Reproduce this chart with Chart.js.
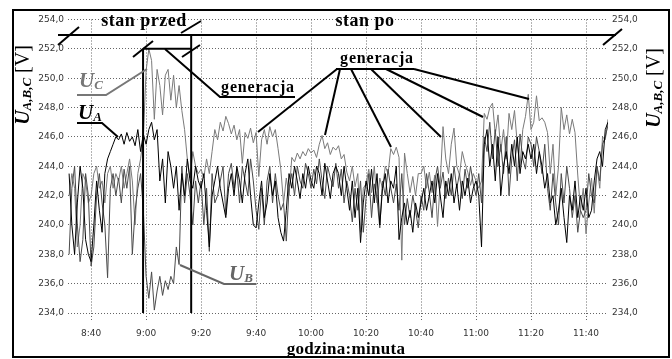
<!DOCTYPE html>
<html>
<head>
<meta charset="utf-8">
<script src="https://cdn.jsdelivr.net/npm/chart.js@4/dist/chart.umd.min.js"></script>
<style>
html, body { margin: 0; padding: 0; background: #fff; }
</style>
</head>
<body>
<canvas id="myChart" width="672" height="359"></canvas>
<script>
// minutes after 8:00, one reading per minute starting at 8:32
var startMinute = 32;
var tickMinutes = [40, 60, 80, 100, 120, 140, 160, 180, 200, 220];
var tickLabels = ['8:40', '9:00', '9:20', '9:40', '10:00', '10:20', '10:40', '11:00', '11:20', '11:40'];

var uA = [
    243.5, 240, 238, 241.5, 244, 242.5, 239, 238,
    237.5, 240, 243, 241, 239.5, 243.5, 244.5, 245, 245.5, 246,
    245.8, 246.2, 245.5, 246.3, 245.7, 246, 245.4, 246.5, 245, 246.2,
    245.5, 246.5, 247, 245.8, 246.5, 243, 244.5, 241.5, 245, 244,
    242.5, 244, 241, 243.5, 242, 244.5, 243, 242.5, 244, 243,
    242.5, 243.5, 241, 238.5, 242, 243, 244, 242.5, 241.5, 240.5,
    242.5, 243.5, 242, 244, 243, 241.5, 243.5, 244.5, 242, 240,
    239.8, 241.5, 243, 240.5, 241.5, 243.5, 242, 243, 240.5, 239.5,
    238.9, 241, 243.5, 242.5, 244, 243, 241.8, 243.5, 242.5, 244,
    243, 242.5, 244, 243.5, 242, 244.2, 243, 241.8, 243.5, 244,
    243.5, 242, 244, 242.5, 241, 243, 240.5, 242.5, 238.8, 241.5,
    243, 242, 243.8, 241.5, 243.5, 240, 242.5, 243.5, 241.5, 243,
    242.5, 244, 239, 240.5, 241.5, 240, 241, 239.5, 241.5, 240.5,
    241.5, 242.5, 241, 242, 243, 241.5, 243.5, 242, 240.5, 243,
    242, 243.5, 241.5, 242.8, 241, 243, 242, 243.2, 241.5, 242.5,
    243, 242, 238.5, 245.5, 246.5, 244, 245.5, 243, 246, 242,
    244, 245, 243.5, 245.5, 244, 246, 243.5, 245, 244.5, 245.5,
    244.5, 245.5, 243.5, 245, 244, 242.5, 243.5, 241.5, 242, 240,
    241, 242.5, 240.5, 238.8, 242, 241, 243, 240.5, 242, 241,
    242.5, 240.5, 241, 243, 244.5, 245, 244, 246.5, 247
];

var uB = [
    238, 242.5, 244, 240, 237.5, 239, 243.5, 242,
    237.2, 238.5, 242, 243.5, 241.5, 240, 236.4, 242.5, 243.5, 242,
    243.2, 241.5, 243.8, 242.5, 244, 238, 241, 242.5, 243.5, 241,
    236.5, 235, 236.8, 234.2, 235.5, 236.5, 235.2, 236.2, 235.6, 236.5,
    236, 238.5, 237.3, 244, 241.5, 243.5, 242, 240, 243, 241.5,
    243, 240, 242.5, 238.2, 243.5, 241.5, 242, 243, 244, 240.7,
    243.5, 244.2, 242.5, 243.8, 241.5, 244, 243, 242, 244.5, 243,
    241, 239.7, 242.5, 240, 243, 244, 241.5, 243.5, 242, 241,
    241.5, 238.9, 242.5, 243.5, 242, 244, 243, 242.5, 244.2, 243.5,
    242.5, 243.8, 242.8, 244.5, 243, 241.8, 244, 243.2, 242.6, 244.2,
    242.5, 243.8, 241.5, 243, 242, 240.2, 242.5, 241, 243, 239.5,
    241.8, 243.5, 240.5, 242.8, 241.8, 239.8, 243, 242, 243.8, 242.5,
    241.5, 242.8, 241, 243.5, 240, 241.8, 240.5, 242, 241, 239.8,
    242, 241, 243.5, 242.2, 240.5, 243, 244, 242.5, 243.6, 241.8,
    243.2, 242, 244, 242.5, 243.5, 241.8, 243.8, 242.5, 244, 242.8,
    242, 243.5, 241.5, 246, 245, 247, 244.5, 246.5, 244, 245.5,
    243.5, 246, 242, 244.5, 245.8, 243, 246.2, 244.5, 243.8, 246,
    245.5, 244, 246, 245, 243.5, 245.5, 242.5, 241, 243.5, 241.5,
    240, 243.5, 241.5, 244, 242.5, 240.5, 242, 239.5, 241, 240.5,
    241, 243.5, 242, 241.5, 244, 243, 245.5, 246, 246.8
];

var uC = [
    242, 243.5, 242.5, 238.5, 240, 243.5, 243, 241.5,
    242, 243.5, 244, 242.5, 243, 241.5, 243.5, 244, 242.5, 243.5,
    243, 244, 242.5, 243.5, 244.5, 243, 240, 243.5, 244.5, 246,
    250.5, 252, 251.2, 247.2, 250.6, 249.5, 247.5, 250.2, 250.6, 248.5,
    250.2, 248, 249.5, 247.8, 246.5, 244.5, 243.2, 245, 244, 243.5,
    243.8, 243.2, 244.5, 243.5, 245, 246.5, 245.8, 247, 246.4, 247.4,
    246.9, 246.2, 246.8, 245.8, 246.5, 244.2, 246.3, 245.9, 246.6, 245.6,
    246.3, 243.3, 245.8, 246.5, 245.5, 246.7, 246, 246.5, 245.2, 243.8,
    241.5, 243.2, 242, 244.6, 244.3, 244.9, 244.5, 245, 244.7, 245.2,
    244.9, 245.1, 244.6, 245.5, 246.1, 245.2, 245.6, 244.8, 245.3, 245.1,
    245.4, 244.5, 244.8, 243.6, 243, 244, 242.6, 243.5, 239.5, 242.5,
    242.8, 243.8, 242.2, 244, 241.5, 243.2, 242.5, 244, 243.5, 245.2,
    244.8, 245.3, 244.6, 237.6, 244.9, 243.5, 242.2, 243.3, 242, 243.5,
    243.5, 244, 242.5, 243.6, 242.2, 243.4, 239.9, 243, 246.7, 244.5,
    243.5, 245.5, 246.6, 244, 243.4, 245, 244.2, 243.6, 242.7, 243.5,
    243, 242.5, 243, 247.6, 247.2, 248, 248.3, 246.2, 247.5, 245,
    246.5, 244.5, 247.6, 246.5, 247.8, 245.5, 244, 246.5, 247.4, 248.9,
    246.5, 247, 248.8, 247.1, 247.3, 247, 246.3, 243.5, 245.5, 242,
    244, 248, 246.5, 247.5, 246.2, 247.2, 246.3, 243.4, 241, 242.5,
    239.4, 241.5, 243.2, 240.8, 244, 242.5, 246, 245.8, 247.2
];

function toPoints(values) {
    return values.map(function (v, i) { return { x: startMinute + i, y: v }; });
}

function fmtVolt(v) {
    return v.toFixed(1).replace('.', ',');
}

function polyline(ctx, pts, width, color) {
    ctx.beginPath();
    ctx.moveTo(pts[0][0], pts[0][1]);
    for (var i = 1; i < pts.length; i++) ctx.lineTo(pts[i][0], pts[i][1]);
    ctx.lineWidth = width;
    ctx.strokeStyle = color;
    ctx.stroke();
}

// "U" with subscript, optional suffix; drawn centred on (0,0) baseline
function drawSymbol(ctx, sub, suffix, color, big, small) {
    ctx.fillStyle = color;
    ctx.textBaseline = 'alphabetic';
    ctx.textAlign = 'left';
    ctx.font = 'bold italic ' + big + 'px "Liberation Serif"';
    var w1 = ctx.measureText('U').width;
    ctx.font = 'bold italic ' + small + 'px "Liberation Serif"';
    var w2 = ctx.measureText(sub).width;
    ctx.font = big + 'px "Liberation Serif"';
    var w3 = suffix ? ctx.measureText(suffix).width : 0;
    var x = -(w1 + w2 + w3) / 2;
    ctx.font = 'bold italic ' + big + 'px "Liberation Serif"';
    ctx.fillText('U', x, 0);
    ctx.font = 'bold italic ' + small + 'px "Liberation Serif"';
    ctx.fillText(sub, x + w1, 2);
    if (suffix) {
        ctx.font = big + 'px "Liberation Serif"';
        ctx.fillText(suffix, x + w1 + w2, 0);
    }
}

function boldText(ctx, text, x, y, size, spacing) {
    ctx.font = 'bold ' + size + 'px "Liberation Serif"';
    ctx.letterSpacing = spacing + 'px';
    ctx.fillStyle = '#000';
    ctx.textAlign = 'center';
    ctx.textBaseline = 'alphabetic';
    ctx.fillText(text, x, y);
    ctx.letterSpacing = '0px';
}

var decorations = {
    id: 'decorations',
    beforeDraw: function (chart) {
        var ctx = chart.ctx;
        ctx.save();
        ctx.fillStyle = '#fff';
        ctx.fillRect(0, 0, chart.width, chart.height);
        ctx.restore();
    },
    afterDatasetsDraw: function (chart) {
        var ctx = chart.ctx;
        var xs = chart.scales.x, ys = chart.scales.y;
        var x1 = xs.getPixelForValue(58.9), x2 = xs.getPixelForValue(76.4);
        var yTop = ys.getPixelForValue(252), yBot = ys.getPixelForValue(234);
        ctx.save();
        ctx.lineCap = 'butt';

        // stan przed / stan po
        polyline(ctx, [[58, 35], [616, 35]], 2, '#000');
        polyline(ctx, [[58, 45], [79, 27]], 2, '#000');
        polyline(ctx, [[603, 45], [622, 29]], 2, '#000');
        polyline(ctx, [[x1, yTop], [x1, yBot]], 2, '#000');
        polyline(ctx, [[x2, 35], [x2, yBot]], 2, '#000');
        polyline(ctx, [[x1, yTop], [x2, yTop]], 2, '#000');
        polyline(ctx, [[133, 57], [153, 41]], 2, '#000');
        polyline(ctx, [[181, 33], [201, 21]], 2, '#000');
        polyline(ctx, [[182, 57], [200, 45]], 2, '#000');
        boldText(ctx, 'stan przed', 144, 26, 18, 0.5);
        boldText(ctx, 'stan po', 365, 26, 18, 0.5);

        // generacja
        polyline(ctx, [[165, 49], [220, 97], [295, 97]], 2, '#000');
        boldText(ctx, 'generacja', 258, 92, 16, 0.8);
        boldText(ctx, 'generacja', 377, 63, 16, 0.8);
        polyline(ctx, [[336, 69], [414, 69]], 2, '#000');
        polyline(ctx, [[337, 69], [258, 132]], 2, '#000');
        polyline(ctx, [[340, 69], [325, 135]], 2, '#000');
        polyline(ctx, [[351, 69], [391, 147]], 2, '#000');
        polyline(ctx, [[371, 69], [441, 137]], 2, '#000');
        polyline(ctx, [[386, 69], [483, 117]], 2, '#000');
        polyline(ctx, [[414, 69], [529, 99]], 2, '#000');

        // series labels
        polyline(ctx, [[77, 95], [106, 95], [147, 69]], 2, '#777');
        polyline(ctx, [[77, 123], [102, 123], [118, 137]], 2, '#000');
        polyline(ctx, [[180, 265], [224, 284], [256, 284]], 2, '#666');
        ctx.save(); ctx.translate(91, 87); drawSymbol(ctx, 'C', '', '#777', 21, 13); ctx.restore();
        ctx.save(); ctx.translate(90, 119); drawSymbol(ctx, 'A', '', '#000', 21, 13); ctx.restore();
        ctx.save(); ctx.translate(241, 280); drawSymbol(ctx, 'B', '', '#666', 21, 13); ctx.restore();

        // axis titles
        ctx.save(); ctx.translate(29, 85); ctx.rotate(-Math.PI / 2); drawSymbol(ctx, 'A,B,C', ' [V]', '#000', 20, 13); ctx.restore();
        ctx.save(); ctx.translate(660, 88); ctx.rotate(-Math.PI / 2); drawSymbol(ctx, 'A,B,C', ' [V]', '#000', 20, 13); ctx.restore();
        boldText(ctx, 'godzina:minuta', 346, 354, 17, 0.3);

        // frame
        ctx.lineWidth = 2;
        ctx.strokeStyle = '#000';
        ctx.strokeRect(13, 10, 656, 347);
        ctx.restore();
    }
};

var ctx = document.getElementById('myChart').getContext('2d');
var myChart = new Chart(ctx, {
    type: 'line',
    data: {
        datasets: [
            { label: 'UA', data: toPoints(uA), borderColor: '#000000', borderWidth: 1 },
            { label: 'UB', data: toPoints(uB), borderColor: '#4a4a4a', borderWidth: 1 },
            { label: 'UC', data: toPoints(uC), borderColor: '#7a7a7a', borderWidth: 1 }
        ]
    },
    options: {
        responsive: false,
        animation: false,
        elements: { point: { radius: 0 }, line: { tension: 0 } },
        layout: { padding: { top: 19.5, left: 0, right: 0, bottom: 0 } },
        plugins: { legend: { display: false }, tooltip: { enabled: false } },
        scales: {
            x: {
                type: 'linear',
                min: 31.6,
                max: 228,
                afterBuildTicks: function (scale) {
                    scale.ticks = tickMinutes.map(function (m) { return { value: m }; });
                },
                afterFit: function (scale) { scale.height = 46; },
                border: { display: false, dash: [1, 2] },
                grid: { color: '#666', lineWidth: 1, drawTicks: true, tickLength: 7, tickColor: '#666', tickBorderDash: [1, 2] },
                ticks: {
                    autoSkip: false,
                    maxRotation: 0,
                    padding: 8,
                    color: '#333',
                    font: { family: 'DejaVu Sans', size: 9 },
                    callback: function (v) {
                        var i = tickMinutes.indexOf(v);
                        return i >= 0 ? tickLabels[i] : '';
                    }
                }
            },
            y: {
                position: 'left',
                min: 234,
                max: 254,
                afterFit: function (scale) { scale.width = 68; },
                border: { display: false, dash: [1, 2] },
                grid: { color: '#666', lineWidth: 1, drawTicks: false },
                ticks: {
                    stepSize: 2,
                    padding: 4,
                    color: '#333',
                    font: { family: 'DejaVu Sans', size: 9 },
                    callback: fmtVolt
                }
            },
            y2: {
                position: 'right',
                min: 234,
                max: 254,
                afterFit: function (scale) { scale.width = 64; },
                border: { display: false },
                grid: { display: false, drawTicks: false },
                ticks: {
                    stepSize: 2,
                    padding: 4,
                    color: '#333',
                    font: { family: 'DejaVu Sans', size: 9 },
                    callback: fmtVolt
                }
            }
        }
    },
    plugins: [decorations]
});
</script>
</body>
</html>
